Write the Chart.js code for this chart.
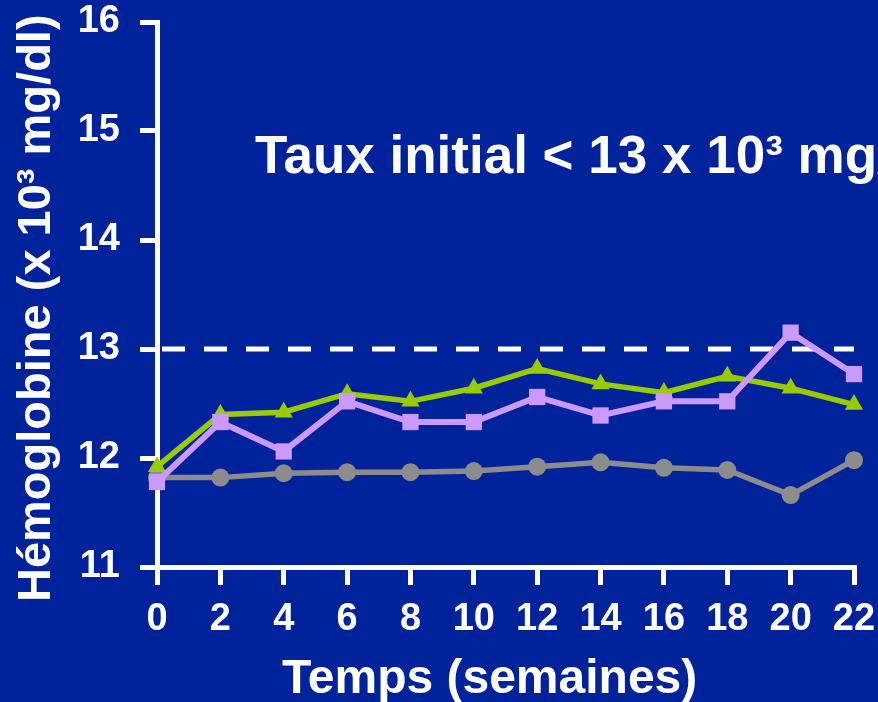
<!DOCTYPE html>
<html lang="fr">
<head>
<meta charset="utf-8">
<title>Hémoglobine</title>
<script src="https://cdn.jsdelivr.net/npm/chart.js@4"></script>
<style>
  html, body { margin: 0; padding: 0; background: #00239B; }
  #wrap { width: 878px; height: 702px; }
</style>
</head>
<body>
<div id="wrap"><canvas id="chart" width="878" height="702"></canvas></div>
<script>
// Semaines de suivi
const weeks = ['0', '2', '4', '6', '8', '10', '12', '14', '16', '18', '20', '22'];

// Hémoglobine moyenne (x 10³ mg/dl) par groupe
const greyGroup   = [11.82, 11.82, 11.86, 11.87, 11.87, 11.88, 11.92, 11.96, 11.91, 11.89, 11.66, 11.98];
const greenGroup  = [11.92, 12.40, 12.42, 12.59, 12.52, 12.64, 12.82, 12.68, 12.60, 12.75, 12.64, 12.49];
const purpleGroup = [11.78, 12.33, 12.06, 12.52, 12.33, 12.33, 12.56, 12.39, 12.52, 12.52, 13.15, 12.77];

// Seuil de référence
const threshold = 13;
const thresholdLine = weeks.map(() => threshold);

// Axe des ordonnées
const yMin = 11;
const yMax = 16;
const yStep = 1;

// Textes
const chartTitle = 'Taux initial < 13 x 10³ mg/dl';
const xTitle = 'Temps (semaines)';
const yTitle = 'Hémoglobine (x 10³ mg/dl)';

const FONT = '"Liberation Sans", Arial, Helvetica, sans-serif';
const WHITE = '#FFFFFF';

// Titres dessinés à la main pour les placer librement
const textPlugin = {
  id: 'freeText',
  afterDraw(chart) {
    const { ctx, chartArea } = chart;
    ctx.save();
    ctx.fillStyle = WHITE;
    ctx.textBaseline = 'alphabetic';
    ctx.textAlign = 'left';

    // titre dans la zone du graphique
    ctx.font = 'bold 53px ' + FONT;
    ctx.fillText(chartTitle, chartArea.left + 98, chartArea.top + 151);

    // titre de l'axe X
    ctx.font = 'bold 48px ' + FONT;
    ctx.fillText(xTitle, chartArea.left + 125, chartArea.bottom + 126);

    // titre de l'axe Y (vertical)
    ctx.translate(chartArea.left - 107, chartArea.bottom + 35);
    ctx.rotate(-Math.PI / 2);
    ctx.font = 'bold 47px ' + FONT;
    ctx.fillText(yTitle, 0, 0);
    ctx.restore();
  }
};

new Chart(document.getElementById('chart'), {
  type: 'line',
  data: {
    labels: weeks,
    datasets: [
      {
        label: 'groupe violet',
        data: purpleGroup,
        borderColor: '#CC99FF',
        backgroundColor: '#CC99FF',
        borderWidth: 6,
        pointStyle: 'rect',
        pointRadius: 11.5,
        pointBorderWidth: 0,
        tension: 0,
        clip: false,
        order: 0
      },
      {
        label: 'groupe vert',
        data: greenGroup,
        borderColor: '#99CC00',
        backgroundColor: '#99CC00',
        borderWidth: 5.5,
        pointStyle: 'triangle',
        pointRadius: 10.5,
        pointBorderWidth: 0,
        tension: 0,
        clip: false,
        order: 1
      },
      {
        label: 'groupe gris',
        data: greyGroup,
        borderColor: '#8C8C8C',
        backgroundColor: '#8C8C8C',
        borderWidth: 5.5,
        pointStyle: 'circle',
        pointRadius: 9,
        pointBorderWidth: 0,
        tension: 0,
        clip: false,
        order: 2
      },
      {
        label: 'seuil',
        data: thresholdLine,
        borderColor: WHITE,
        borderWidth: 5,
        borderDash: [23, 19],
        borderDashOffset: 37,
        borderCapStyle: 'butt',
        pointRadius: 0,
        tension: 0,
        clip: false,
        order: 3
      }
    ]
  },
  options: {
    responsive: false,
    animation: false,
    events: [],
    layout: { padding: { top: 22, right: 24, left: 0, bottom: 0 } },
    plugins: {
      legend: { display: false },
      tooltip: { enabled: false },
      title: { display: false }
    },
    scales: {
      x: {
        type: 'category',
        offset: false,
        grid: {
          display: true,
          drawOnChartArea: false,
          drawTicks: true,
          tickLength: 18,
          color: WHITE,
          lineWidth: 5
        },
        border: { display: true, color: WHITE, width: 5 },
        ticks: {
          color: WHITE,
          font: { family: FONT, size: 38, weight: 'bold' },
          padding: 12,
          maxRotation: 0,
          autoSkip: false
        },
        afterFit(scale) {
          scale.height = 135;
          scale.paddingLeft = 0;
          scale.paddingRight = 0;
        }
      },
      y: {
        min: yMin,
        max: yMax,
        grid: {
          display: true,
          drawOnChartArea: false,
          drawTicks: true,
          tickLength: 17,
          color: WHITE,
          lineWidth: 5
        },
        border: { display: true, color: WHITE, width: 5 },
        ticks: {
          stepSize: yStep,
          color: WHITE,
          font: { family: FONT, size: 38, weight: 'bold' },
          padding: 20
        },
        afterFit(scale) {
          scale.width = 157;
          scale.paddingTop = 0;
          scale.paddingBottom = 0;
        }
      }
    }
  },
  plugins: [textPlugin]
});
</script>
</body>
</html>
